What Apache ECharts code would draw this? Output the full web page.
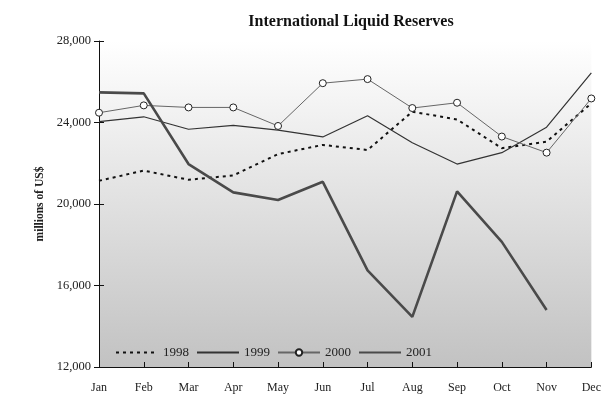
<!DOCTYPE html>
<html><head><meta charset="utf-8">
<script src="https://cdn.jsdelivr.net/npm/echarts@6/dist/echarts.min.js"></script>
<style>html,body{margin:0;padding:0;background:#fff}#c{width:604px;height:394px}</style>
</head><body><div id="c"></div>
<script>
var categories = ['Jan','Feb','Mar','Apr','May','Jun','Jul','Aug','Sep','Oct','Nov','Dec'];
var s1998 = [21140,21640,21190,21400,22450,22900,22650,24530,24150,22740,23060,24940];
var s1999 = [24040,24280,23670,23860,23630,23290,24330,23010,21960,22520,23770,26430];
var s2000 = [24480,24840,24740,24740,23830,25930,26130,24710,24970,23310,22520,25180];
var s2001 = [25480,25430,21960,20570,20200,21090,16740,14460,20620,18140,14800,null];
var yTicks = [12000,16000,20000,24000,28000];

var font = 'Liberation Serif';
var hide = {opacity:0};
var chart = echarts.init(document.getElementById('c'), null, {renderer:'canvas'});
chart.setOption({
  animation:false,
  backgroundColor:'#ffffff',
  title:{text:'International Liquid Reserves',left:346,top:9,textAlign:'center',
    textStyle:{fontFamily:font,fontSize:16,fontWeight:'bold',color:'#111'}},
  grid:{left:99,right:12,top:41,bottom:26,show:true,borderWidth:0,
    backgroundColor:{type:'linear',x:0,y:0,x2:0,y2:1,colorStops:[{offset:0,color:'#ffffff'},{offset:1,color:'#c2c2c2'}]}},
  legend:{left:110,top:341,itemWidth:42,itemHeight:8,itemGap:7,
    textStyle:{fontFamily:font,fontSize:13,color:'#222'},
    data:[{name:'1998',itemStyle:hide},{name:'1999',itemStyle:hide},{name:'2000'},{name:'2001',itemStyle:hide}]},
  xAxis:{type:'category',data:categories,boundaryGap:false,
    axisLine:{lineStyle:{color:'#111',width:1}},
    axisTick:{inside:true,length:5,lineStyle:{color:'#111'},alignWithLabel:true},
    axisLabel:{fontFamily:font,fontSize:12,color:'#222',margin:15,showMaxLabel:true}},
  yAxis:[{type:'value',min:12000,max:28000,interval:4000,
    name:'millions of US$',nameLocation:'middle',nameGap:53,
    nameTextStyle:{fontFamily:font,fontSize:11.5,fontWeight:'bold',color:'#222'},
    axisLine:{show:true,lineStyle:{color:'#111'}},
    axisTick:{show:true,inside:false,length:5,lineStyle:{color:'#111'}},
    splitLine:{show:false},
    axisLabel:{fontFamily:font,fontSize:12.5,color:'#222',margin:8,
      formatter:function(v){return v.toLocaleString('en-US');}}},
    {type:'value',min:12000,max:28000,interval:4000,position:'left',
    axisLine:{show:false},axisTick:{show:true,inside:true,length:5,lineStyle:{color:'#111'}},
    axisLabel:{show:false},splitLine:{show:false}}],
  series:[
    {name:'1998',type:'line',data:s1998,symbol:'none',
      lineStyle:{color:'#111',width:2,type:[3,4]},itemStyle:{color:'#111'}},
    {name:'1999',type:'line',data:s1999,symbol:'none',
      lineStyle:{color:'#333',width:1.2},itemStyle:{color:'#333'}},
    {name:'2000',type:'line',data:s2000,symbol:'circle',symbolSize:7,
      lineStyle:{color:'#666',width:1},itemStyle:{color:'#fff',borderColor:'#222',borderWidth:1}},
    {name:'2001',type:'line',data:s2001,symbol:'none',
      lineStyle:{color:'#4a4a4a',width:2.6},itemStyle:{color:'#4a4a4a'}}
  ]
});
</script></body></html>
